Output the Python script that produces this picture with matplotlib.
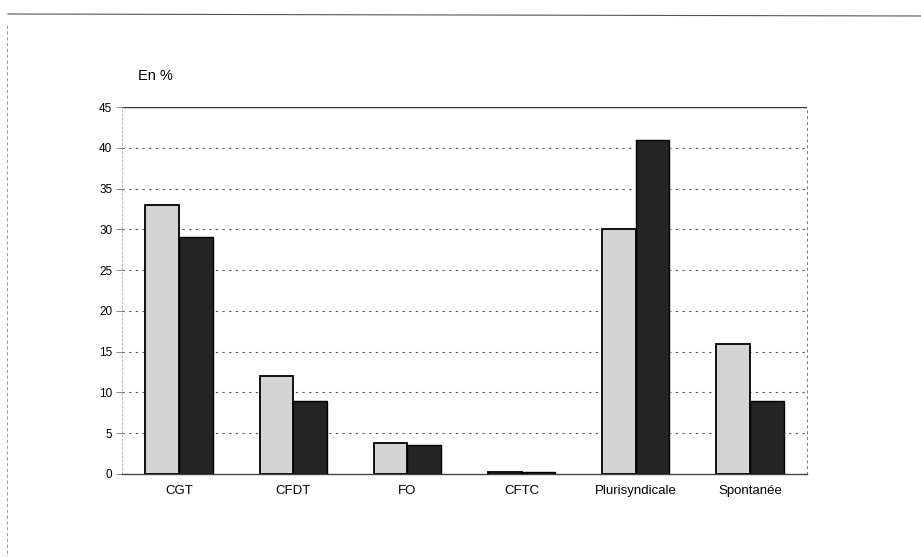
import matplotlib.pyplot as plt
import numpy as np

plt.rcParams['font.family'] = ['Liberation Sans', 'DejaVu Sans']

categories = ['CGT', 'CFDT', 'FO', 'CFTC', 'Plurisyndicale', 'Spontanée']
serie_claire = [33, 12, 3.8, 0.2, 30, 15.9]
serie_foncee = [29, 8.9, 3.6, 0.3, 41, 8.9]
y_ticks = [0, 5, 10, 15, 20, 25, 30, 35, 40, 45]

fig = plt.figure(figsize=(9.21, 5.57), dpi=100)
ax = fig.add_axes([122 / 921, 1 - 474 / 557, 685 / 921, 367 / 557])

x = np.arange(len(categories))
w = 0.295
ax.bar(x - w / 2, serie_claire, w, color='#d4d4d4', edgecolor='black', linewidth=1.3, zorder=3)
ax.bar(x + w / 2, serie_foncee, w, color='#242424', edgecolor='black', linewidth=1.0, zorder=3)

ax.set_xlim(-0.5, len(categories) - 0.5)
ax.set_ylim(0, 45)
ax.set_yticks(y_ticks)
ax.set_yticklabels([str(v) for v in y_ticks], fontsize=8.5)
ax.set_xticks(x)
ax.set_xticklabels(categories, fontsize=9.5)
ax.tick_params(axis='x', length=0, pad=8)
ax.tick_params(axis='y', length=4, width=0.6, color='#777777', pad=3)

for v in y_ticks[1:-1]:
    ax.axhline(v, color='#555555', linestyle=(0, (2, 4)), linewidth=0.8, zorder=1)
ax.axhline(45, color='#333333', linewidth=1.0, zorder=1)

ax.spines['top'].set_visible(False)
ax.spines['left'].set_color('#999999')
ax.spines['left'].set_linewidth(0.5)
ax.spines['left'].set_linestyle((0, (3, 3)))
ax.spines['right'].set_color('#777777')
ax.spines['right'].set_linewidth(0.7)
ax.spines['right'].set_linestyle((0, (2, 4)))
ax.spines['bottom'].set_color('#444444')
ax.spines['bottom'].set_linewidth(1.0)

fig.text(138 / 921, 1 - 76 / 557, 'En %', fontsize=10.5, va='center', ha='left')

# frame of the scanned page
fig.add_artist(plt.Line2D([8 / 921, 1], [1 - 14 / 557, 1 - 16 / 557], color='#555555', linewidth=0.8))
fig.add_artist(plt.Line2D([7 / 921, 7 / 921], [1 - 25 / 557, 0], color='#888888',
                          linewidth=0.6, linestyle=(0, (4, 3))))

fig.savefig('out.png', dpi=100)
